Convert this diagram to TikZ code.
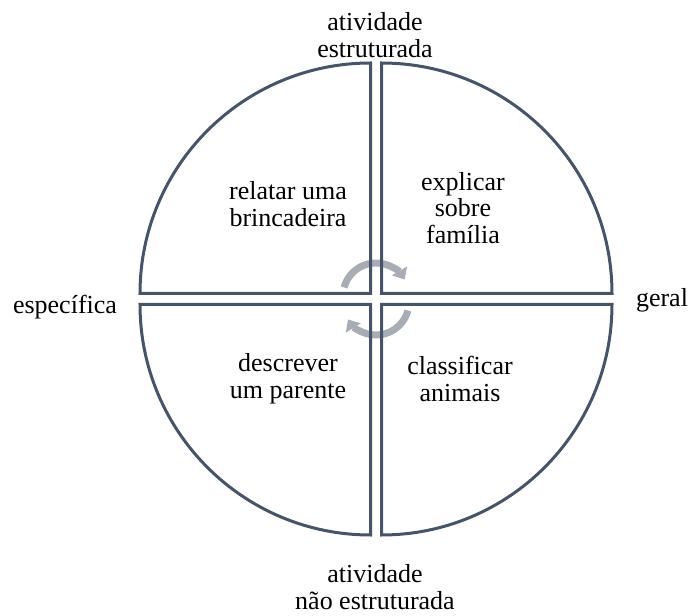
\documentclass[tikz,border=0pt]{standalone}
\usepackage{fontspec}
\setmainfont{Liberation Serif}
\usepackage{tikz}
\usetikzlibrary{arrows.meta}
\definecolor{pizzaLinha}{RGB}{68,84,106}
\definecolor{cicloCinza}{RGB}{168,172,180}
\tikzset{
  quadrante/.style={draw=pizzaLinha, line width=3pt, line join=miter},
  rotulo/.style={font=\fontsize{26}{26.5}\selectfont, align=center, inner sep=0pt},
  ciclo/.style={draw=cicloCinza, line width=7pt,
    -{Triangle[width=17pt,length=10pt]}}
}

\begin{document}
\begin{tikzpicture}[x=1pt, y=1pt]
  \useasboundingbox (0,0) rectangle (689,616);
  \coordinate (centro) at (376,317);
  \coordinate (cicloTopo) at (376,320);
  \coordinate (cicloBase) at (376,314);
  % Circular arrows in the middle
  \draw[ciclo] (cicloTopo) ++(165:33)
    arc[start angle=165, end angle=30, radius=33pt];
  \draw[ciclo] (cicloBase) ++(-15:33)
    arc[start angle=-15, end angle=-148, radius=33pt];
  % Four quadrants
  \draw[quadrante] ([shift={(5.5,5.5)}]centro) -- ++(230.5,0)
    arc[start angle=0, end angle=90, radius=230.5pt] -- cycle;
  \draw[quadrante] ([shift={(-5.5,5.5)}]centro) -- ++(0,230.5)
    arc[start angle=90, end angle=180, radius=230.5pt] -- cycle;
  \draw[quadrante] ([shift={(-5.5,-5.5)}]centro) -- ++(-230.5,0)
    arc[start angle=180, end angle=270, radius=230.5pt] -- cycle;
  \draw[quadrante] ([shift={(5.5,-5.5)}]centro) -- ++(0,-230.5)
    arc[start angle=270, end angle=360, radius=230.5pt] -- cycle;
  % Axis labels
  \node[rotulo] (estruturada) at (375,581) {atividade\\estruturada};
  \node[rotulo] (naoEstruturada) at (375,29) {atividade\\não estruturada};
  \node[rotulo] (especifica) at (65,309) {específica};
  \node[rotulo] (geral) at (662,316) {geral};
  % Quadrant texts
  \node[rotulo] (brincadeira) at (288,412) {relatar uma\\brincadeira};
  \node[rotulo] (familia) at (463,408) {explicar\\sobre\\família};
  \node[rotulo] (parente) at (288,237) {descrever\\um parente};
  \node[rotulo] (animais) at (460,237) {classificar\\animais};
\end{tikzpicture}
\end{document}
